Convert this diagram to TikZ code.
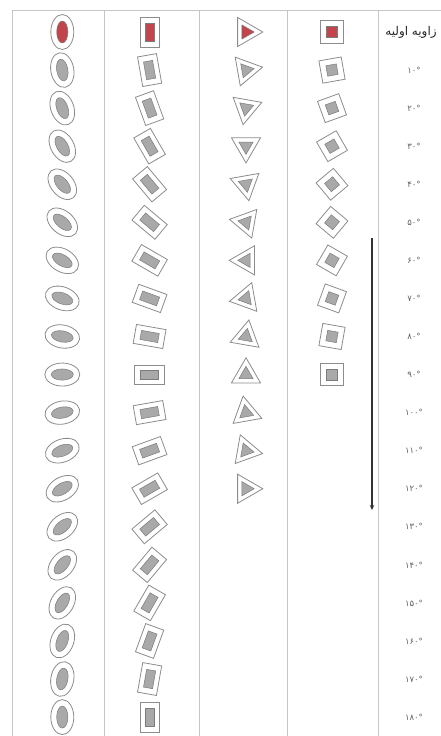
\documentclass[tikz,border=0pt]{standalone}
\usepackage{fontspec}
\newfontfamily\arabicfont[Script=Arabic]{DejaVu Sans}
\TeXXeTstate=1
\definecolor{gridc}{HTML}{C6C6C6}
\definecolor{outc}{HTML}{8C8C8C}
\definecolor{grayfill}{HTML}{A9A9A9}
\definecolor{innerc}{HTML}{7C7C7C}
\definecolor{redfill}{HTML}{C2454E}
\definecolor{labelc}{HTML}{606060}
\tikzset{
  gridline/.style={draw=gridc, line width=1pt},
  outershape/.style={draw=outc, fill=white, line width=0.8pt},
  innershape/.style={draw=innerc, line width=0.5pt},
  anglelabel/.style={font=\arabicfont\fontsize{8.5}{10}\selectfont, text=labelc, inner sep=0pt},
  titlelabel/.style={font=\arabicfont\fontsize{12}{14}\selectfont, text=black!85, inner sep=0pt},
  arrowline/.style={draw=black!80, line width=1.2pt, -{Stealth[length=5pt,width=4.5pt]}}
}
\usetikzlibrary{arrows.meta}
\begin{document}
\begin{tikzpicture}[x=1pt,y=-1pt]
\useasboundingbox (0,0) rectangle (441,736);
% grid lines
\draw[gridline] (12,10) -- (441,10);
\foreach \gx in {12,104.5,199,287.5,378.5}{
  \draw[gridline] (\gx,10) -- (\gx,736);
}
% shapes
\foreach \i in {0,...,18}{
  \pgfmathsetmacro{\yy}{32+38.06*\i}
  \pgfmathsetmacro{\aa}{10*\i}
  \ifnum\i=0 \def\fc{redfill}\else\def\fc{grayfill}\fi
  % ellipse column
  \begin{scope}[shift={(62.3,\yy)}, rotate=\aa]
    \draw[outershape] (0,0) ellipse [x radius=11.5, y radius=17.5];
    \draw[innershape, fill=\fc] (0,0) ellipse [x radius=5.6, y radius=11];
  \end{scope}
  % rectangle column
  \begin{scope}[shift={(149.6,\yy)}, rotate=\aa]
    \draw[outershape] (-9.6,-15) rectangle (9.6,15);
    \draw[innershape, fill=\fc] (-4.6,-9) rectangle (4.6,9);
  \end{scope}
  % triangle column
  \ifnum\i<13
  \begin{scope}[shift={(246,\yy)}, rotate=\aa]
    \draw[outershape] (0:16.8) -- (120:16.8) -- (240:16.8) -- cycle;
    \draw[innershape, fill=\fc] (0:8.2) -- (120:8.2) -- (240:8.2) -- cycle;
  \end{scope}
  \fi
  % square column
  \ifnum\i<10
  \begin{scope}[shift={(332,\yy)}, rotate=\aa]
    \draw[outershape] (-11.3,-11.3) rectangle (11.3,11.3);
    \draw[innershape, fill=\fc] (-5.3,-5.3) rectangle (5.3,5.3);
  \end{scope}
  \fi
}
% labels
\node[titlelabel] (title) at (411,32) {\beginR زاویه اولیه\endR};
\foreach \i/\t in {1/۱۰,2/۲۰,3/۳۰,4/۴۰,5/۵۰,6/۶۰,7/۷۰,8/۸۰,9/۹۰,10/۱۰۰,11/۱۱۰,12/۱۲۰,13/۱۳۰,14/۱۴۰,15/۱۵۰,16/۱۶۰,17/۱۷۰,18/۱۸۰}{
  \node[anglelabel] (lab\i) at (414,{32+38.06*\i}) {\t°};
}
% arrow
\coordinate (arrowtop) at (372,238);
\coordinate (arrowbot) at (372,510);
\draw[arrowline] (arrowtop) -- (arrowbot);
\end{tikzpicture}
\end{document}
